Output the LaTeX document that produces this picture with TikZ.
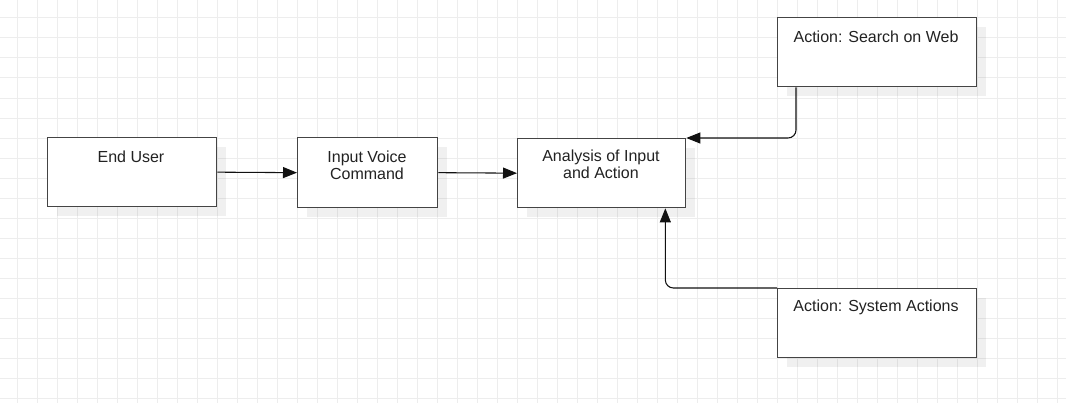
\documentclass[tikz,border=0pt]{standalone}
\usepackage{fontspec}
\setmainfont{Liberation Sans}
\usetikzlibrary{arrows.meta,shadows,calc}
\definecolor{gridc}{HTML}{EDEDED}
\definecolor{boxc}{HTML}{444444}
\definecolor{txtc}{HTML}{222222}
\definecolor{linec}{HTML}{111111}
\begin{document}
\begin{tikzpicture}[x=0.75pt,y=-0.75pt,
  box/.style={draw=boxc, line width=1pt, fill=white, inner sep=0pt, anchor=north west,
    drop shadow={shadow xshift=6.75pt, shadow yshift=-6.75pt, fill=black, opacity=0.06}},
  lbl/.style={text=txtc, font=\fontsize{12}{12.8}\selectfont, align=center, inner sep=0pt},
  conn/.style={draw=linec, line width=0.8pt, -{Triangle[length=10.5pt,width=8.25pt]}},
  gridline/.style={draw=gridc, line width=0.75pt}
]
\useasboundingbox (0,0) rectangle (1066,403);
\fill[white] (0,0) rectangle (1066,403);
\foreach \x in {17,37,...,1057} \draw[gridline] (\x,0) -- (\x,403);
\foreach \y in {18,38,...,398} \draw[gridline] (0,\y) -- (1066,\y);

\node[box, minimum width=169*0.75pt, minimum height=69*0.75pt] (eu) at (47,137) {};
\node[box, minimum width=140*0.75pt, minimum height=70*0.75pt] (ivc) at (297,137) {};
\node[box, minimum width=168*0.75pt, minimum height=69*0.75pt] (an) at (517,138) {};
\node[box, minimum width=199*0.75pt, minimum height=69*0.75pt] (sw) at (777,17) {};
\node[box, minimum width=199*0.75pt, minimum height=69*0.75pt] (sa) at (777,288) {};

\node[lbl] (eut) at (131,157) {End User};
\node[lbl] (ivct) at (367,165) {Input Voice\\Command};
\node[lbl] (ant) at (601,164) {Analysis of Input\\and Action};
\node[lbl] (swt) at (876,37) {Action: Search on Web};
\node[lbl] (sat) at (876,307) {Action: System Actions};

\draw[conn] (eu.east) -- (ivc.west);
\draw[conn] (ivc.east) -- (an.west);
\draw[conn, rounded corners=6pt] ($(sw.south west)+(19,0)$) |- (an.north east);
\draw[conn, rounded corners=6pt] (sa.north west) -| ($(an.south east)+(-21,0)$);
\end{tikzpicture}
\end{document}
